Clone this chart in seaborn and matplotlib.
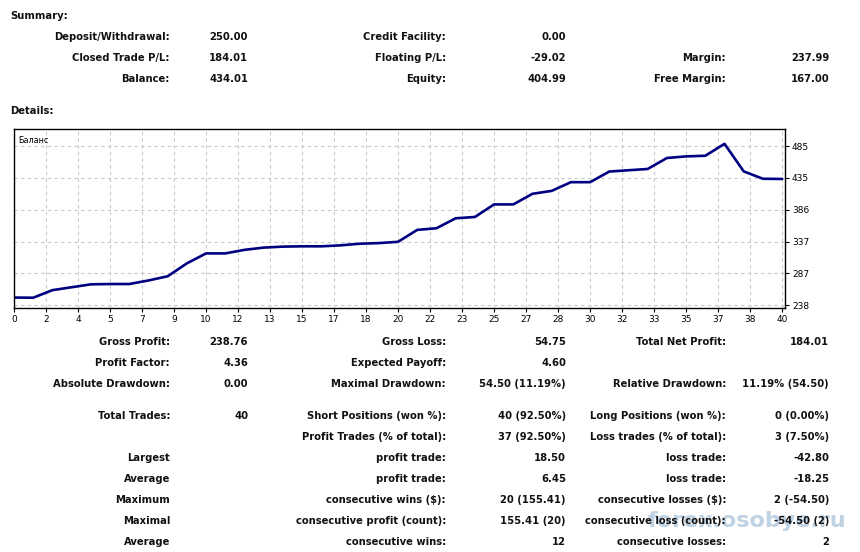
import matplotlib
matplotlib.use("Agg")
import matplotlib.pyplot as plt
import seaborn as sns
import pandas as pd

# ---- data ----
trade_index = list(range(41))
balance = [250.00, 249.75, 261.5, 266.0, 270.5, 271.0, 271.0, 276.5, 283.0, 303.0,
           318.5, 318.5, 324.0, 327.5, 329.0, 329.5, 329.5, 331.0, 333.5, 334.5,
           336.5, 355.0, 357.5, 373.0, 375.0, 394.5, 394.5, 411.0, 415.5, 429.0,
           429.0, 445.5, 447.5, 449.5, 466.5, 469.0, 470.0, 488.51, 445.71, 434.30,
           434.01]
x_tick_labels = ["0", "2", "4", "5", "7", "9", "10", "12", "13", "15", "17", "18", "20",
                 "22", "23", "25", "27", "28", "30", "32", "33", "35", "37", "38", "40"]
y_tick_labels = ["238", "287", "337", "386", "435", "485"]
y_tick_values = [238.0, 287.4, 336.8, 386.2, 435.6, 485.0]

summary_rows = [
    ["Deposit/Withdrawal:", "250.00", "Credit Facility:", "0.00", "", ""],
    ["Closed Trade P/L:", "184.01", "Floating P/L:", "-29.02", "Margin:", "237.99"],
    ["Balance:", "434.01", "Equity:", "404.99", "Free Margin:", "167.00"],
]
detail_rows = [
    ["Gross Profit:", "238.76", "Gross Loss:", "54.75", "Total Net Profit:", "184.01"],
    ["Profit Factor:", "4.36", "Expected Payoff:", "4.60", "", ""],
    ["Absolute Drawdown:", "0.00", "Maximal Drawdown:", "54.50 (11.19%)", "Relative Drawdown:", "11.19% (54.50)"],
    ["Total Trades:", "40", "Short Positions (won %):", "40 (92.50%)", "Long Positions (won %):", "0 (0.00%)"],
    ["", "", "Profit Trades (% of total):", "37 (92.50%)", "Loss trades (% of total):", "3 (7.50%)"],
    ["Largest", "", "profit trade:", "18.50", "loss trade:", "-42.80"],
    ["Average", "", "profit trade:", "6.45", "loss trade:", "-18.25"],
    ["Maximum", "", "consecutive wins ($):", "20 (155.41)", "consecutive losses ($):", "2 (-54.50)"],
    ["Maximal", "", "consecutive profit (count):", "155.41 (20)", "consecutive loss (count):", "-54.50 (2)"],
    ["Average", "", "consecutive wins:", "12", "consecutive losses:", "2"],
]

# ---- layout ----
W, H = 860, 552
sns.set_theme(style="white")
plt.rcParams['font.family'] = ['DejaVu Sans']
fig = plt.figure(figsize=(W / 100, H / 100), dpi=100)
fig.patch.set_facecolor("white")

def fx(x):
    return x / W

def fy(y):
    return 1 - y / H

FS = 7.2
TXT = "#111111"
col_x = [170, 248, 446, 566, 726, 829]

def put_row(row, y):
    for i, t in enumerate(row):
        if t:
            fig.text(fx(col_x[i]), fy(y), t, ha="right", va="center",
                     fontsize=FS, fontweight="bold", color=TXT)

fig.text(fx(10), fy(16), "Summary:", ha="left", va="center", fontsize=FS,
         fontweight="bold", color=TXT)
for r, y in zip(summary_rows, [37, 58, 79]):
    put_row(r, y)
fig.text(fx(10), fy(111), "Details:", ha="left", va="center", fontsize=FS,
         fontweight="bold", color=TXT)

detail_y = [342, 363, 384, 416, 437, 458, 479, 500, 521, 542]
for r, y in zip(detail_rows, detail_y):
    put_row(r, y)

# ---- chart ----
ax = fig.add_axes([fx(14), fy(308), fx(785) - fx(14), fy(129) - fy(308)])
df = pd.DataFrame({"trade": trade_index, "balance": balance})
sns.lineplot(data=df, x="trade", y="balance", ax=ax, color="#000080", linewidth=1.9)
ax.set_xlim(0, 40.15)
ax.set_ylim(233.8, 511.5)
xt = [40 * i / 24 for i in range(25)]
ax.set_xticks(xt)
ax.set_xticklabels(x_tick_labels)
ax.set_yticks(y_tick_values)
ax.set_yticklabels(y_tick_labels)
ax.yaxis.tick_right()
ax.set_xlabel("")
ax.set_ylabel("")
ax.tick_params(axis="both", labelsize=6.5, colors="black", length=3, width=0.8,
               direction="out", pad=2)
ax.tick_params(axis="x", bottom=True)
ax.tick_params(axis="y", right=True, left=False)
ax.grid(True, color="#c8c8c8", linestyle=(0, (3, 3)), linewidth=0.8)
for s in ax.spines.values():
    s.set_color("black")
    s.set_linewidth(1.0)
ax.text(0.005, 0.96, "Баланс", transform=ax.transAxes, ha="left", va="top",
        fontsize=5.8, color="black")

# watermark
fig.text(fx(747), fy(521), "forex.osobye.ru", ha="center", va="center",
         fontsize=16, fontweight="bold", color="#7fa6c8", alpha=0.5, zorder=0)

fig.savefig("out.png", dpi=100, facecolor="white")
